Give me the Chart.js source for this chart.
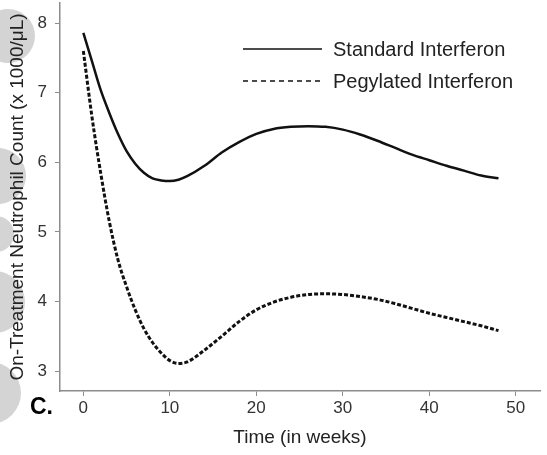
<!DOCTYPE html>
<html>
<head>
<meta charset="utf-8">
<script src="https://cdn.jsdelivr.net/npm/chart.js@4.4.0/dist/chart.umd.min.js"></script>
<style>
  html, body { margin: 0; padding: 0; background: #fff; }
  #wrap { width: 547px; height: 455px; position: relative; }
</style>
</head>
<body>
<div id="wrap"><canvas id="myChart"></canvas></div>
<script>
Chart.defaults.font.family = '"Liberation Sans", Arial, sans-serif'
Chart.defaults.color = '#222'

// weeks sampled along the fitted curves
const weeks = [0, 1, 2, 3, 4, 5, 6, 7, 8, 9, 10, 11, 12, 14, 16, 18, 20, 22, 24, 26, 28, 30, 32, 34, 36, 38, 40, 42, 44, 46, 48]
const standard = [7.86, 7.45, 7.04, 6.71, 6.41, 6.16, 5.98, 5.85, 5.77, 5.74, 5.73, 5.75, 5.80, 5.95, 6.14, 6.29, 6.41, 6.48, 6.51, 6.52, 6.51, 6.47, 6.40, 6.31, 6.21, 6.11, 6.03, 5.95, 5.88, 5.81, 5.77]
const pegylated = [7.60, 6.65, 5.85, 5.15, 4.60, 4.21, 3.88, 3.61, 3.41, 3.26, 3.15, 3.11, 3.13, 3.30, 3.50, 3.71, 3.88, 3.99, 4.06, 4.10, 4.11, 4.10, 4.07, 4.03, 3.97, 3.90, 3.83, 3.77, 3.71, 3.65, 3.58]

const xTicks = [0, 10, 20, 30, 40, 50]
const yTicks = [3, 4, 5, 6, 7, 8]
const seriesNames = ['Standard Interferon', 'Pegylated Interferon']

const toPoints = (ys) => weeks.map((w, i) => ({ x: w, y: ys[i] }))

// faint watermark blobs behind the y axis title
const watermark = {
  id: 'watermark',
  beforeDraw(chart) {
    const ctx = chart.ctx
    ctx.save()
    ctx.fillStyle = '#d4d4d4'
    const blobs = [[8, 36, 27], [-2, 176, 28], [-4, 234, 18], [-6, 302, 31], [-10, 393, 31]]
    blobs.forEach(([x, y, r]) => {
      ctx.beginPath()
      ctx.arc(x, y, r, 0, Math.PI * 2)
      ctx.fill()
    })
    ctx.restore()
  }
}

// legend with line samples, plus the panel letter
const legendLines = {
  id: 'legendLines',
  afterDraw(chart) {
    const ctx = chart.ctx
    ctx.save()
    ctx.strokeStyle = '#111'
    ctx.lineWidth = 1.5
    ctx.font = '20px "Liberation Sans", Arial, sans-serif'
    ctx.fillStyle = '#222'
    ctx.textBaseline = 'middle'
    const rows = [{ y: 49, dash: [] }, { y: 81, dash: [5, 4] }]
    rows.forEach((r, i) => {
      ctx.setLineDash(r.dash)
      ctx.beginPath()
      ctx.moveTo(243, r.y)
      ctx.lineTo(322, r.y)
      ctx.stroke()
      ctx.fillText(seriesNames[i], 333, r.y + 1)
    })
    ctx.setLineDash([])
    ctx.font = 'bold 23px "Liberation Sans", Arial, sans-serif'
    ctx.fillStyle = '#000'
    ctx.fillText('C.', 30, 408)
    ctx.restore()
  }
}

const chart = document.getElementById('myChart')

new Chart(chart, {
  type: 'line',
  data: {
    datasets: [{
      label: seriesNames[0],
      data: toPoints(standard),
      borderColor: '#111',
      borderWidth: 2.5,
      pointRadius: 0,
      cubicInterpolationMode: 'monotone',
      fill: false
    }, {
      label: seriesNames[1],
      data: toPoints(pegylated),
      borderColor: '#111',
      borderWidth: 3,
      borderDash: [4, 2],
      pointRadius: 0,
      cubicInterpolationMode: 'monotone',
      fill: false
    }]
  },
  options: {
    responsive: true,
    maintainAspectRatio: false,
    animation: false,
    layout: { padding: { top: 3, right: 7, left: 0, bottom: 0 } },
    plugins: {
      legend: { display: false },
      tooltip: { enabled: false }
    },
    scales: {
      x: {
        type: 'linear',
        min: -2.7,
        max: 52.8,
        afterBuildTicks: (s) => { s.ticks = xTicks.map(v => ({ value: v })) },
        afterFit: (s) => { s.height = 64; s.paddingLeft = 0; s.paddingRight = 0 },
        border: { display: true, color: '#8c8c8c', width: 1.5 },
        grid: { drawOnChartArea: false, drawTicks: true, tickLength: 5, color: '#8c8c8c' },
        ticks: { font: { size: 17 }, color: '#333', padding: 2, maxRotation: 0 },
        title: {
          display: true,
          text: 'Time (in weeks)',
          font: { size: 19 },
          color: '#222',
          padding: { top: 0, bottom: 6 }
        }
      },
      y: {
        min: 2.713,
        max: 8.29,
        afterBuildTicks: (s) => { s.ticks = yTicks.map(v => ({ value: v })) },
        afterFit: (s) => { s.width = 60; s.paddingTop = 0; s.paddingBottom = 0 },
        border: { display: true, color: '#8c8c8c', width: 1.5 },
        grid: { drawOnChartArea: false, drawTicks: true, tickLength: 5, color: '#8c8c8c' },
        ticks: { font: { size: 17 }, color: '#333', padding: 8 },
        title: {
          display: true,
          text: 'On-Treatment Neutrophil Count (x 1000/μL)',
          font: { size: 19 },
          color: '#222',
          padding: { top: 6, bottom: 0 }
        }
      }
    }
  },
  plugins: [watermark, legendLines]
})
</script>
</body>
</html>
